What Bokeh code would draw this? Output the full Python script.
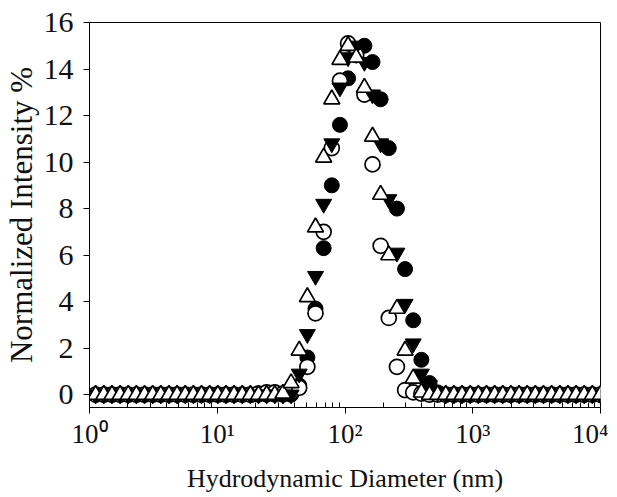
from bokeh.plotting import figure
from bokeh.models import FixedTicker, Range1d
from bokeh.embed import file_html
from bokeh.resources import INLINE

# Size classes (nm)
diameter_nm = [1.117, 1.294, 1.499, 1.736, 2.010, 2.328, 2.696, 3.122, 3.615, 4.187,
               4.849, 5.615, 6.503, 7.531, 8.721, 10.10, 11.70, 13.54, 15.69, 18.17,
               21.04, 24.36, 28.21, 32.67, 37.84, 43.82, 50.75, 58.77, 68.06, 78.82,
               91.28, 105.7, 122.4, 141.8, 164.2, 190.1, 220.2, 255.0, 295.3, 342.0,
               396.1, 458.7, 531.2, 615.1, 712.4, 825.0, 955.4, 1106, 1281, 1484,
               1718, 1990, 2305, 2669, 3091, 3580, 4145, 4801, 5560, 6439,
               7456, 8635, 10000]

Z20 = [0] * 20  # 1.117 .. 18.17 nm
Z19 = [0] * 19  # 712.4 .. 10000 nm

# series: filled circles
filled_circle = Z20 + [0, 0, 0, 0, 0.0, 0.4, 1.6, 3.7, 6.3, 9.0, 11.6, 13.6, 14.8, 15.0,
                       14.3, 12.7, 10.6, 8.0, 5.4, 3.2, 1.5, 0.5, 0.1, 0] + Z19
# series: open circles
open_circle = Z20 + [0.05, 0.1, 0.1, 0.05, 0.1, 0.3, 1.2, 3.5, 7.0, 10.6, 13.5, 15.1, 14.6, 12.9,
                     9.9, 6.4, 3.3, 1.2, 0.2, 0.1, 0.05, 0, 0, 0] + Z19
# series: filled down-triangles
filled_tri = Z20 + [0, 0, 0, 0, 0.0, 0.9, 2.6, 5.1, 8.2, 10.8, 13.2, 14.5, 15.0, 14.3,
                    12.9, 10.8, 8.4, 6.1, 3.9, 2.2, 0.9, 0.4, 0.1, 0] + Z19
# series: open up-triangles
open_tri = Z20 + [0, 0, 0, 0.05, 0.5, 1.9, 4.2, 7.2, 10.2, 12.7, 14.4, 15.0, 14.5, 13.2,
                  11.1, 8.6, 6.0, 3.7, 1.9, 0.7, 0.1, 0, 0, 0] + Z19

x_ticks = [1, 10, 100, 1000, 10000]
x_tick_labels = ["10⁰", "10¹", "10²", "10³", "10⁴"]
y_ticks = [0, 2, 4, 6, 8, 10, 12, 14, 16]

FONT = "Liberation Serif"

p = figure(width=608, height=497, x_axis_type="log",
           x_range=Range1d(1, 10000), y_range=Range1d(-0.55, 16),
           output_backend="svg", toolbar_location=None,
           min_border_left=88, min_border_right=8, min_border_top=22, min_border_bottom=90)

p.scatter(diameter_nm, filled_circle, marker="circle", size=15,
          fill_color="black", line_color="black", line_width=1)
p.scatter(diameter_nm, open_circle, marker="circle", size=15,
          fill_color="white", line_color="black", line_width=1.7)
p.scatter(diameter_nm, filled_tri, marker="inverted_triangle", size=16,
          fill_color="black", line_color="black", line_width=1)
p.scatter(diameter_nm, open_tri, marker="triangle", size=16,
          fill_color="white", line_color="black", line_width=1.7)

p.grid.visible = False
p.outline_line_color = "black"
p.outline_line_width = 1
p.background_fill_color = "white"
p.border_fill_color = "white"

minor = [m * 10 ** k for k in range(4) for m in range(2, 10)]
p.xaxis.ticker = FixedTicker(ticks=x_ticks, minor_ticks=minor)
p.xaxis.major_label_overrides = {t: l for t, l in zip(x_ticks, x_tick_labels)}
p.yaxis.ticker = FixedTicker(ticks=y_ticks, minor_ticks=[])

for ax in (p.xaxis[0], p.yaxis[0]):
    ax.axis_line_color = "black"
    ax.axis_line_width = 1
    ax.major_tick_line_color = "black"
    ax.minor_tick_line_color = "black"
    ax.major_tick_in = 0
    ax.major_tick_out = 6
    ax.major_label_text_font = FONT
    ax.major_label_text_color = "#111111"
    ax.axis_label_text_font = FONT
    ax.axis_label_text_font_style = "normal"
    ax.axis_label_text_color = "#111111"

p.xaxis.major_label_text_font_size = "27px"
p.yaxis.major_label_text_font_size = "30px"
p.xaxis.minor_tick_in = 5
p.xaxis.minor_tick_out = 0
p.yaxis.minor_tick_in = 0
p.yaxis.minor_tick_out = 0

p.xaxis.axis_label = "Hydrodynamic Diameter (nm)"
p.yaxis.axis_label = "Normalized Intensity %"
p.xaxis.axis_label_text_font_size = "26px"
p.yaxis.axis_label_text_font_size = "31px"
p.xaxis.major_label_standoff = 5
p.yaxis.major_label_standoff = 10
p.xaxis.axis_label_standoff = 12
p.yaxis.axis_label_standoff = 2

open("out.html", "w").write(file_html(p, INLINE))
